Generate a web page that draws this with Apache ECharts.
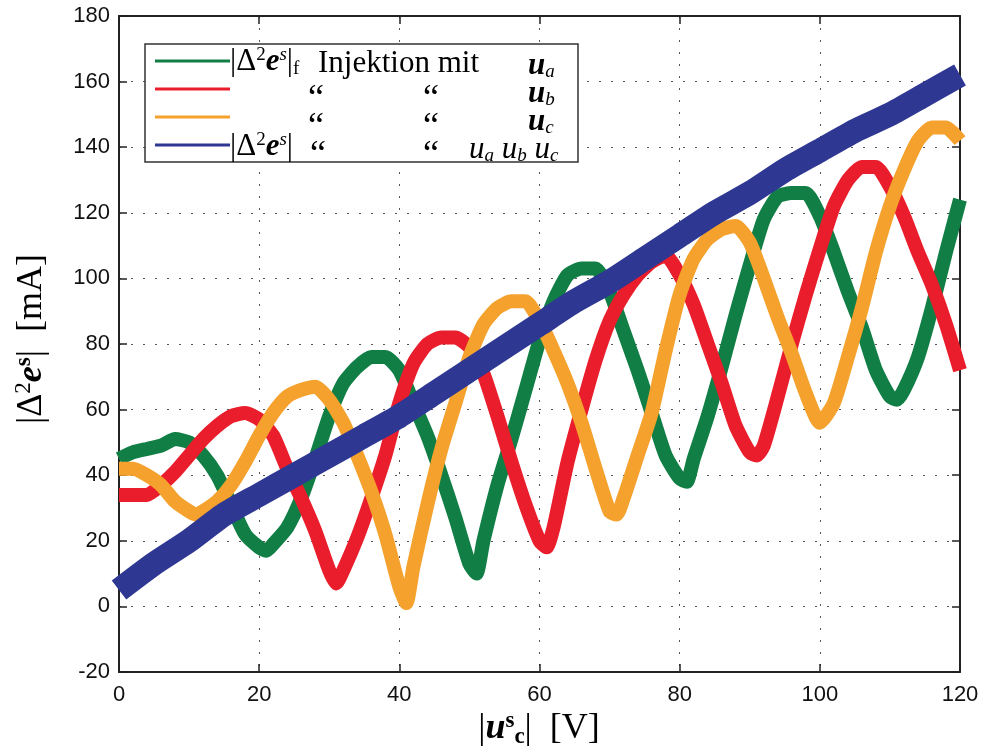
<!DOCTYPE html>
<html>
<head>
<meta charset="utf-8">
<script src="https://cdn.jsdelivr.net/npm/echarts@6/dist/echarts.min.js"></script>
<style>html,body{margin:0;padding:0;background:#fff;}#c{width:984px;height:752px;}</style>
</head>
<body>
<div id="c"></div>
<script>
// ---- data ----
const xTicks = [0, 20, 40, 60, 80, 100, 120];
const yTicks = [-20, 0, 20, 40, 60, 80, 100, 120, 140, 160, 180];

const greenX = [0,2,4,6,8,10,12,14,16,18,20,21,22,24,26,28,30,32,34,36,38,40,42,44,46,48,50,51,52,54,56,58,60,62,64,66,68,70,72,74,76,78,80,81,82,84,86,88,90,92,94,96,98,100,102,104,106,108,110,111,112,114,116,118,120];
const greenY = [45,47,48,49,51,50,46,40,31,22,18,17,19,24,33,45,58,68,73,76,76,72,62,52,40,27,13,10,20,37,51,66,81,93,101,103,103,96,84,72,59,46,39,38,45,58,73,89,104,118,125,126,126,119,108,96,85,72,64,63,66,76,91,108,124];

const redX = [0,2,4,6,8,10,12,14,16,18,20,22,24,26,28,30,31,32,34,36,38,40,42,44,46,48,50,52,54,56,58,60,61,62,64,66,68,70,72,74,76,78,80,82,84,86,88,90,91,92,94,96,98,100,102,104,106,108,110,112,114,116,118,120];
const redY = [34,34,34,37,41,46,51,55,58,59,57,52,42,33,23,11,7,11,21,33,46,62,74,80,82,82,79,71,58,44,31,20,18,24,44,60,75,87,95,101,105,107,101,92,80,68,55,47,46,49,64,80,95,109,122,130,134,134,128,119,108,98,86,72];

const orangeX = [0,2,4,6,8,10,11,12,14,16,18,20,22,24,26,28,30,32,34,36,38,40,41,42,44,46,48,50,52,54,56,58,60,62,64,66,68,70,71,72,74,76,78,80,82,84,86,88,90,92,94,96,98,100,102,104,106,108,110,112,114,116,118,120];
const orangeY = [42,42,40,37,32,29,28,29,32,37,44,52,59,64,66,67,63,56,46,35,22,6,1,12,31,48,62,76,86,91,93,93,87,78,68,56,42,29,28,33,46,59,78,95,106,112,115,116,111,100,88,77,65,56,62,76,91,108,122,133,142,146,146,142];

const blueX = [0,5,10,15,20,25,30,35,40,45,50,55,60,65,70,75,80,85,90,95,100,105,110,115,120];
const blueY = [5,13,20,28,34,40,46,52,58,65,72,79,86,93,99,106,113,120,126,133,139,145,150,156,162];

const colors = {green:'#117f45', red:'#e91d2b', orange:'#f5a12d', blue:'#2e3792'};

function pairs(xs, ys){ return xs.map((x,i)=>[x, ys[i]]); }

const chart = echarts.init(document.getElementById('c'), null, {renderer:'canvas'});

const tickFont = {fontFamily:'Liberation Sans, Arial, sans-serif', fontSize:22, color:'#111'};
const grid = {left:119, right:24, top:16, bottom:80};

function lineSeries(name, xs, ys, color, w){
  return {
    name, type:'line', data:pairs(xs, ys), showSymbol:false, symbol:'none',
    smooth:0.2,
    lineStyle:{color, width:w, join:'round', cap:'butt'},
    itemStyle:{color}, clip:true, animation:false, z:2
  };
}

const serif = 'Liberation Serif, Times New Roman, serif';
const rich = {
  n:{fontFamily:serif, fontSize:36, color:'#111'},
  b:{fontFamily:serif, fontSize:36, fontWeight:'bold', fontStyle:'italic', color:'#111'},
  sup:{fontFamily:serif, fontSize:23, color:'#111', verticalAlign:'top', padding:[0,0,16,0]},
  supb:{fontFamily:serif, fontSize:23, fontWeight:'bold', color:'#111', verticalAlign:'top', padding:[0,0,16,0]},
  subb:{fontFamily:serif, fontSize:23, fontWeight:'bold', color:'#111', verticalAlign:'bottom', padding:[14,0,0,0]}
};
const lrich = {
  n:{fontFamily:serif, fontSize:31, color:'#222'},
  b:{fontFamily:serif, fontSize:31, fontWeight:'bold', fontStyle:'italic', color:'#222'},
  i:{fontFamily:serif, fontSize:31, fontStyle:'italic', color:'#222'},
  sup:{fontFamily:serif, fontSize:19, fontStyle:'italic', color:'#222', verticalAlign:'top', padding:[0,0,14,0]},
  supn:{fontFamily:serif, fontSize:19, color:'#222', verticalAlign:'top', padding:[0,0,14,0]},
  sub:{fontFamily:serif, fontSize:19, color:'#222', verticalAlign:'bottom', padding:[12,0,0,0]},
  subi:{fontFamily:serif, fontSize:19, fontStyle:'italic', color:'#222', verticalAlign:'bottom', padding:[12,0,0,0]},
  q:{fontFamily:serif, fontSize:36, color:'#222'}
};

const legendRows = [
  {y:61, color:colors.green},
  {y:89, color:colors.red},
  {y:117, color:colors.orange},
  {y:145, color:colors.blue}
];

const graphics = [
  {type:'rect', shape:{x:145, y:44, width:433, height:118}, style:{fill:'#fff', stroke:'#333', lineWidth:1.5}, z:10}
];
legendRows.forEach(r=>{
  graphics.push({type:'line', shape:{x1:155, y1:r.y, x2:230, y2:r.y}, style:{stroke:r.color, lineWidth:3}, z:11});
});
function ltext(x, y, text, align){
  graphics.push({type:'text', x, y, z:11, style:{text, rich:lrich, align:align||'left', verticalAlign:'middle'}});
}
ltext(230, 62, '{n||Δ}{supn|2}{b|e}{sup|s}{n||}{sub|f}');
ltext(318, 64, '{n|Injektion mit}');
ltext(528, 66, '{b|u}{subi|a}');
ltext(308, 100, '{q|“}');
ltext(423, 100, '{q|“}');
ltext(528, 94, '{b|u}{subi|b}');
ltext(308, 128, '{q|“}');
ltext(423, 128, '{q|“}');
ltext(528, 122, '{b|u}{subi|c}');
ltext(230, 147, '{n||Δ}{supn|2}{b|e}{sup|s}{n||}');
ltext(310, 156, '{q|“}');
ltext(423, 156, '{q|“}');
ltext(469, 150, '{i|u}{subi|a}{n| }{i|u}{subi|b}{n| }{i|u}{subi|c}');

// axis titles
graphics.push({type:'text', x:32, y:339, rotation:Math.PI/2, z:11,
  style:{text:'{n||Δ}{sup|2}{b|e}{supb|s}{n||  [mA]}', rich, align:'center', verticalAlign:'middle'}});
graphics.push({type:'text', x:539, y:729, z:11,
  style:{text:'{n||}{b|u}{supb|s}{subb|c}{n||  [V]}', rich, align:'center', verticalAlign:'middle'}});

const dotted = {color:'#555', width:1, type:[2,10]};
const axLine = {show:true, onZero:false, lineStyle:{color:'#222', width:2}};
const axTick = {show:true, inside:true, length:8, lineStyle:{color:'#222', width:1.5}};

chart.setOption({
  backgroundColor:'#fff',
  animation:false,
  grid,
  xAxis:[
    {type:'value', min:xTicks[0], max:xTicks[xTicks.length-1], interval:20,
     axisLine:axLine, axisTick:axTick,
     axisLabel:{...tickFont, margin:12},
     splitLine:{show:true, lineStyle:dotted}},
    {type:'value', position:'top', min:xTicks[0], max:xTicks[xTicks.length-1], interval:20,
     axisLine:axLine, axisTick:axTick,
     axisLabel:{show:false}, splitLine:{show:false}}
  ],
  yAxis:[
    {type:'value', min:yTicks[0], max:yTicks[yTicks.length-1], interval:20,
     axisLine:axLine, axisTick:axTick,
     axisLabel:{...tickFont, margin:9},
     splitLine:{show:true, lineStyle:dotted}},
    {type:'value', position:'right', min:yTicks[0], max:yTicks[yTicks.length-1], interval:20,
     axisLine:axLine, axisTick:axTick,
     axisLabel:{show:false}, splitLine:{show:false}}
  ],
  series:[
    lineSeries('green', greenX, greenY, colors.green, 14),
    lineSeries('red', redX, redY, colors.red, 14),
    lineSeries('orange', orangeX, orangeY, colors.orange, 14),
    lineSeries('blue', blueX, blueY, colors.blue, 24)
  ],
  graphic:graphics
});
</script>
</body>
</html>
